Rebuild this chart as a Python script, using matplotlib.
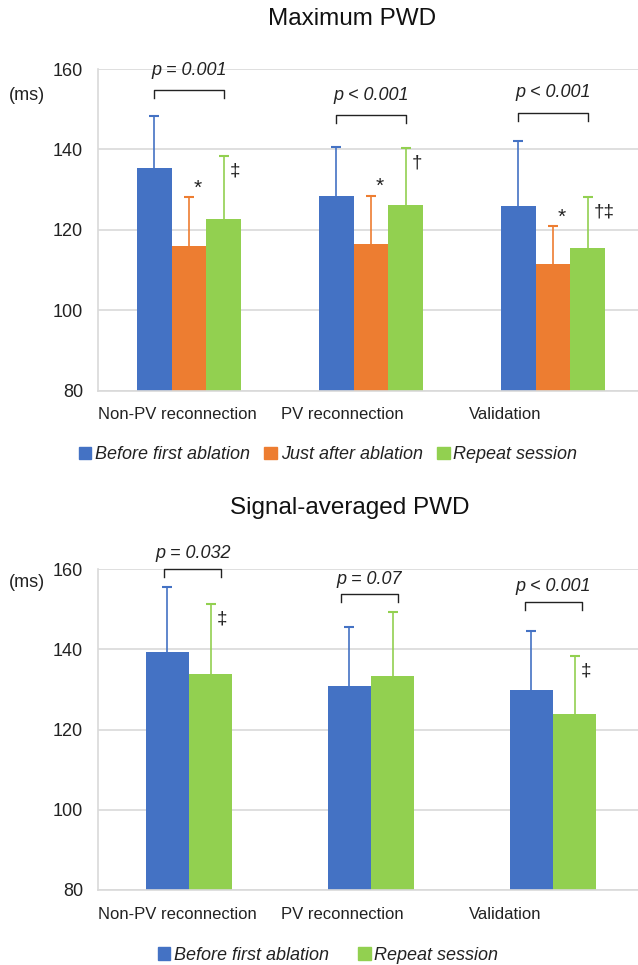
import matplotlib
matplotlib.use('Agg')
import matplotlib.pyplot as plt
from matplotlib.patches import Patch
import numpy as np

plt.rcParams['font.family'] = ['Liberation Sans', 'DejaVu Sans']

# data
categories = ['Non-PV reconnection', 'PV reconnection', 'Validation']

# Maximum PWD (ms): mean and SD (upper error only)
max_before = [135.3, 128.5, 125.9]
max_before_sd = [13.1, 12.2, 16.3]
max_just = [115.9, 116.6, 111.6]
max_just_sd = [12.3, 11.9, 9.4]
max_repeat = [122.6, 126.2, 115.5]
max_repeat_sd = [15.8, 14.1, 12.7]
max_p = ['p = 0.001', 'p < 0.001', 'p < 0.001']
max_just_sym = ['*', '*', '*']
max_repeat_sym = ['\u2021', '\u2020', '\u2020\u2021']

# Signal-averaged PWD (ms)
sa_before = [139.4, 131.0, 129.8]
sa_before_sd = [16.3, 14.7, 14.9]
sa_repeat = [134.0, 133.5, 123.9]
sa_repeat_sd = [17.3, 15.9, 14.5]
sa_p = ['p = 0.032', 'p = 0.07', 'p < 0.001']
sa_repeat_sym = ['\u2021', '', '\u2021']

blue = '#4472C4'
orange = '#ED7D31'
green = '#92D050'
grid_c = '#D9D9D9'
txt_c = '#222222'

label_x = [-0.066, 0.84, 1.736]

fig = plt.figure(figsize=(6.38, 9.65), dpi=100)


def style_axes(ax, ms_y):
    ax.set_xlim(-0.5, 2.5)
    ax.set_ylim(80, 160)
    ax.set_yticks([80, 100, 120, 140, 160])
    ax.yaxis.grid(True, color=grid_c, linewidth=1.2)
    ax.set_axisbelow(True)
    for s in ['top', 'right']:
        ax.spines[s].set_visible(False)
    for s in ['left', 'bottom']:
        ax.spines[s].set_color(grid_c)
        ax.spines[s].set_linewidth(1.2)
    ax.tick_params(axis='both', length=0, labelsize=13, colors=txt_c)
    ax.tick_params(axis='y', pad=10.8)
    ax.tick_params(axis='x', pad=12)
    ax.set_xticks(label_x)
    ax.set_xticklabels(categories, fontsize=12)
    ax.text(-0.130, ms_y, '(ms)', transform=ax.transAxes, fontsize=13,
            color=txt_c, ha='center', va='center')


def errbars(ax, xs, vals, sd, c):
    tops = np.array(vals) + np.array(sd)
    ax.vlines(xs, vals, tops, color=c, lw=1.2)
    ax.hlines(tops, xs - 0.028, xs + 0.028, color=c, lw=1.5)


def bracket(ax, x0, x1, y, text, ty):
    ax.plot([x0, x0, x1, x1], [y - 2, y, y, y - 2], color=txt_c,
            lw=1.0, clip_on=False)
    ax.text((x0 + x1) / 2, ty, text, ha='center', va='center',
            fontsize=13, style='italic', color=txt_c)


x = np.arange(len(categories))

# ---- Maximum PWD
ax1 = fig.add_axes([98 / 638, 1 - 390.7 / 965, 546 / 638, 321.7 / 965])
style_axes(ax1, 0.919)
w = 0.192
series = [(max_before, max_before_sd, blue, -w),
          (max_just, max_just_sd, orange, 0),
          (max_repeat, max_repeat_sd, green, w)]
for vals, sd, c, off in series:
    ax1.bar(x + off, np.array(vals) - 80, w, bottom=80, color=c)
    errbars(ax1, x + off, vals, sd, c)

tops_just = np.array(max_just) + np.array(max_just_sd)
tops_rep = np.array(max_repeat) + np.array(max_repeat_sd)
for i in range(3):
    ax1.annotate(max_just_sym[i], (x[i], tops_just[i]), xytext=(9, 9),
                 textcoords='offset pixels', ha='center', va='center',
                 fontsize=15, color=txt_c)
    ax1.annotate(max_repeat_sym[i], (x[i] + w, tops_rep[i]), xytext=(6, -15),
                 textcoords='offset pixels', ha='left', va='center',
                 fontsize=13.5, color=txt_c)

bracket(ax1, x[0] - w, x[0] + w, 154.8, max_p[0], 159.6)
bracket(ax1, x[1] - w, x[1] + w, 148.6, max_p[1], 153.5)
bracket(ax1, x[2] - w, x[2] + w, 149.1, max_p[2], 154.1)

fig.text(352 / 638, 1 - 19 / 965, 'Maximum PWD', ha='center', va='center',
         fontsize=17.5, color='#111111')

fig.legend(handles=[Patch(color=blue, label='Before first ablation'),
                    Patch(color=orange, label='Just after ablation'),
                    Patch(color=green, label='Repeat session')],
           loc='center', bbox_to_anchor=(328 / 638, 1 - 455 / 965), ncol=3,
           frameon=False, prop={'size': 13, 'style': 'italic'},
           handlelength=0.7, handleheight=0.7, handletextpad=0.2,
           columnspacing=0.8, labelcolor=txt_c)

# ---- Signal-averaged PWD
ax2 = fig.add_axes([98 / 638, 1 - 890 / 965, 546 / 638, 320.7 / 965])
style_axes(ax2, 0.959)
w2 = 0.238
series2 = [(sa_before, sa_before_sd, blue, -w2 / 2),
           (sa_repeat, sa_repeat_sd, green, w2 / 2)]
for vals, sd, c, off in series2:
    ax2.bar(x + off, np.array(vals) - 80, w2, bottom=80, color=c)
    errbars(ax2, x + off, vals, sd, c)

tops_sa = np.array(sa_repeat) + np.array(sa_repeat_sd)
for i in range(3):
    if sa_repeat_sym[i]:
        ax2.annotate(sa_repeat_sym[i], (x[i] + w2 / 2, tops_sa[i]),
                     xytext=(6, -15), textcoords='offset pixels', ha='left',
                     va='center', fontsize=13.5, color=txt_c)

bracket(ax2, x[0] - 0.135, x[0] + 0.176, 160.0, sa_p[0], 164.0)
bracket(ax2, x[1] - 0.164, x[1] + 0.147, 153.8, sa_p[1], 157.5)
bracket(ax2, x[2] - 0.154, x[2] + 0.158, 151.8, sa_p[2], 155.7)

fig.text(350 / 638, 1 - 508 / 965, 'Signal-averaged PWD', ha='center',
         va='center', fontsize=17.5, color='#111111')

fig.legend(handles=[Patch(color=blue, label='Before first ablation'),
                    Patch(color=green, label='Repeat session')],
           loc='center', bbox_to_anchor=(328 / 638, 1 - 955 / 965), ncol=2,
           frameon=False, prop={'size': 13, 'style': 'italic'},
           handlelength=0.7, handleheight=0.7, handletextpad=0.2,
           columnspacing=1.6, labelcolor=txt_c)

fig.savefig('out.png', dpi=100)
